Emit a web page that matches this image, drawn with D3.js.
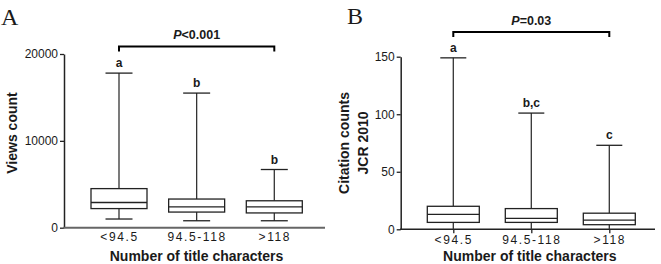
<!DOCTYPE html>
<html><head><meta charset="utf-8">
<script src="https://cdn.jsdelivr.net/npm/d3@7"></script>
<style>
body{margin:0;background:#fff;}
svg{display:block;}
text{font-family:"Liberation Sans",Arial,sans-serif;fill:#1a1a1a;}
</style></head>
<body>
<svg id="chart" width="661" height="264"></svg>
<script>
const categories = ["<94.5", "94.5-118", ">118"];
// Panel A: Views count
const viewsMin = [1000, 800, 800];
const viewsQ1 = [2200, 1800, 1700];
const viewsMedian = [2900, 2400, 2400];
const viewsQ3 = [4500, 3300, 3100];
const viewsMax = [17800, 15500, 6700];
const viewsLetters = ["a", "b", "b"];
const viewsTicks = [0, 10000, 20000];
const viewsP = "0.001";
// Panel B: Citation counts JCR 2010
const citeMin = [0, 0, 0];
const citeQ1 = [6, 6, 4];
const citeMedian = [13, 9.5, 8];
const citeQ3 = [20, 18, 14];
const citeMax = [149, 101, 73];
const citeLetters = ["a", "b,c", "c"];
const citeTicks = [0, 50, 100, 150];
const citeP = "0.03";

const svg = d3.select("#chart");

function panel(o) {
  const g = svg.append("g");
  const y = d3.scaleLinear().domain([0, o.ymax]).range([o.y0, o.y1]);
  const x = d3.scalePoint().domain(categories).range([o.c0, o.c2]);

  // panel letter
  g.append("text").attr("x", o.lx).attr("y", o.ly)
    .style("font-family", "'Liberation Serif','Times New Roman',serif")
    .style("font-size", "24px").text(o.letter);

  // y axis
  const ya = g.append("g").attr("transform", `translate(${o.ax},0)`)
    .call(d3.axisLeft(y).tickValues(o.ticks).tickSize(4).tickSizeOuter(0).tickPadding(2).tickFormat(d3.format("d")));
  ya.select(".domain").attr("stroke", "#222").attr("stroke-width", 1.5);
  ya.selectAll(".tick line").attr("stroke", "#222").attr("stroke-width", 1.3);
  ya.selectAll(".tick text").style("font-size", "12px").style("font-family", "'Liberation Sans',Arial,sans-serif").attr("fill", "#222");

  // x axis
  g.append("line").attr("x1", o.ax - 0.75).attr("x2", o.axEnd)
    .attr("y1", y(0)).attr("y2", y(0))
    .attr("stroke", o.xColor).attr("stroke-width", o.xWidth);
  const xa = g.append("g").attr("transform", `translate(0,${y(0)})`)
    .call(d3.axisBottom(x).tickSize(o.xTick).tickPadding(o.xPad));
  xa.select(".domain").remove();
  xa.selectAll(".tick line").attr("stroke", "#222").attr("stroke-width", 1.3);
  xa.selectAll(".tick text").style("font-size", "12px").style("letter-spacing", "1.6px")
    .style("font-family", "'Liberation Sans',Arial,sans-serif").attr("fill", "#222");

  // axis titles
  g.append("text").attr("x", (o.ax + o.axEnd) / 2 + 2).attr("y", o.titleY)
    .attr("text-anchor", "middle").style("font-size", "14px").style("font-weight", "bold")
    .text("Number of title characters");
  o.ylabel.forEach((t, i) => {
    g.append("text").attr("transform", `translate(${o.ylx[i]},${o.yly}) rotate(-90)`)
      .attr("text-anchor", "middle").attr("dy", "0.35em")
      .style("font-size", "14px").style("font-weight", "bold").text(t);
  });

  // boxes
  const bw = o.bw, cw = o.cw;
  categories.forEach((c, i) => {
    const cx = x(c);
    g.append("line").attr("x1", cx).attr("x2", cx).attr("y1", y(o.max[i])).attr("y2", y(o.q3[i]))
      .attr("stroke", "#333").attr("stroke-width", 1.3);
    g.append("line").attr("x1", cx).attr("x2", cx).attr("y1", y(o.q1[i])).attr("y2", y(o.min[i]))
      .attr("stroke", "#333").attr("stroke-width", 1.3);
    g.append("line").attr("x1", cx - cw / 2).attr("x2", cx + cw / 2).attr("y1", y(o.max[i])).attr("y2", y(o.max[i]))
      .attr("stroke", "#222").attr("stroke-width", 1.3);
    if (o.min[i] > 0) {
      g.append("line").attr("x1", cx - cw / 2).attr("x2", cx + cw / 2).attr("y1", y(o.min[i])).attr("y2", y(o.min[i]))
        .attr("stroke", "#222").attr("stroke-width", 1.3);
    }
    g.append("rect").attr("x", cx - bw / 2).attr("width", bw)
      .attr("y", y(o.q3[i])).attr("height", y(o.q1[i]) - y(o.q3[i]))
      .attr("fill", "#fff").attr("stroke", "#222").attr("stroke-width", 1.3);
    g.append("line").attr("x1", cx - bw / 2).attr("x2", cx + bw / 2).attr("y1", y(o.med[i])).attr("y2", y(o.med[i]))
      .attr("stroke", "#222").attr("stroke-width", 1.3);
    g.append("text").attr("x", cx).attr("y", y(o.max[i]) - 6).attr("text-anchor", "middle")
      .style("font-size", "12px").style("font-weight", "bold").text(o.letters[i]);
  });

  // significance bracket
  const xa0 = x(categories[0]), xa1 = x(categories[2]);
  g.append("path").attr("d", `M${xa0},${o.by + 5}V${o.by}H${xa1}V${o.by + 5}`)
    .attr("fill", "none").attr("stroke", "#000").attr("stroke-width", 2);
  const pt = g.append("text").attr("x", (xa0 + xa1) / 2).attr("y", o.by - 7.5).attr("text-anchor", "middle")
    .style("font-size", "12.5px").style("font-weight", "bold");
  pt.append("tspan").style("font-style", "italic").text("P");
  pt.append("tspan").text(o.pOp + o.p);
}

panel({
  letter: "A", lx: 1, ly: 25,
  ymax: 20000, y0: 227.7, y1: 54, ax: 64, axEnd: 325, c0: 119, c2: 274.3,
  ticks: viewsTicks, xColor: "#666", xWidth: 2, xTick: 0, xPad: 5,
  titleY: 261, ylabel: ["Views count"], ylx: [12], yly: 133,
  bw: 56, cw: 27,
  min: viewsMin, q1: viewsQ1, med: viewsMedian, q3: viewsQ3, max: viewsMax, letters: viewsLetters,
  by: 46.5, pOp: "<", p: viewsP
});

panel({
  letter: "B", lx: 347, ly: 24,
  ymax: 150, y0: 229.3, y1: 56.7, ax: 400.7, axEnd: 655, c0: 453.3, c2: 609.3,
  ticks: citeTicks, xColor: "#222", xWidth: 1.5, xTick: 4, xPad: 2,
  titleY: 261, ylabel: ["Citation counts", "JCR 2010"], ylx: [344, 363], yly: 143,
  bw: 52, cw: 26,
  min: citeMin, q1: citeQ1, med: citeMedian, q3: citeQ3, max: citeMax, letters: citeLetters,
  by: 32, pOp: "=", p: citeP
});
</script>
</body></html>
